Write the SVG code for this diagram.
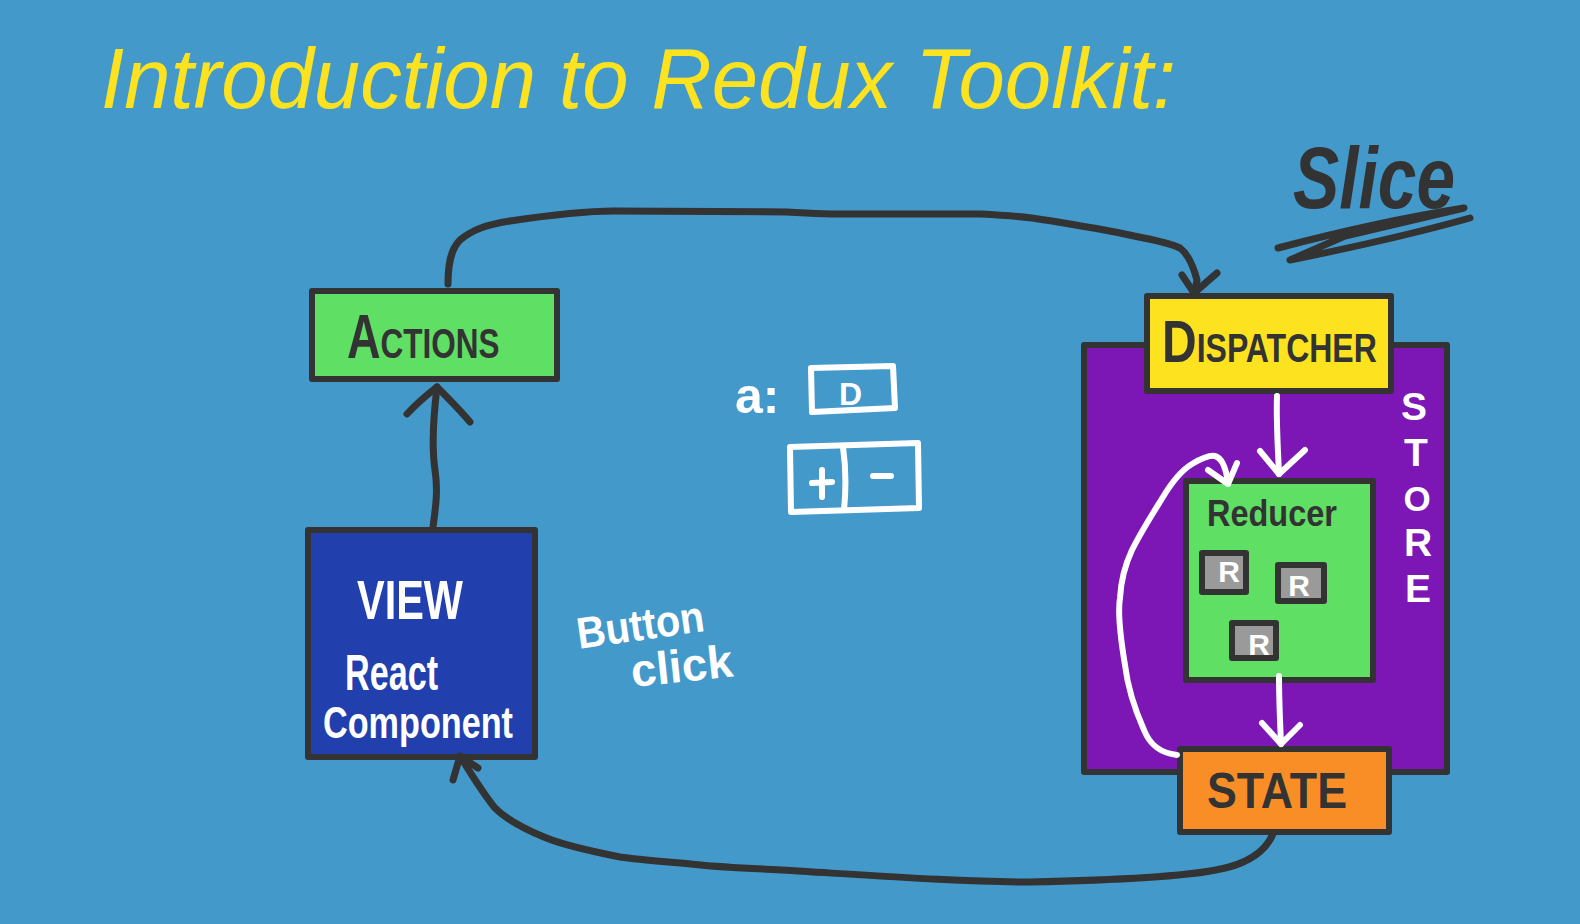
<svg xmlns="http://www.w3.org/2000/svg" width="1580" height="924" viewBox="0 0 1580 924">
<style>
.box{stroke:#333333;stroke-width:6;stroke-linejoin:round}
.dark{fill:none;stroke:#333333;stroke-width:7;stroke-linecap:round;stroke-linejoin:round}
.white{fill:none;stroke:#ffffff;stroke-width:6;stroke-linecap:round;stroke-linejoin:round}
.lbl{font-family:"Liberation Sans",Arial,sans-serif;font-weight:bold;fill:#333333}
.wlbl{font-family:"Liberation Sans",Arial,sans-serif;font-weight:bold;fill:#ffffff}
.hand{font-family:"Liberation Sans",Arial,sans-serif;font-style:italic}
</style>
<rect width="1580" height="924" fill="#4499cb"/>

<g id="title">
<text class="hand" x="101" y="108" font-size="86" fill="#fde31f" textLength="1075" lengthAdjust="spacingAndGlyphs">Introduction to Redux Toolkit:</text>
</g>

<g id="slice">
<text class="hand" x="1293" y="208" font-size="88" font-weight="bold" fill="#333333" textLength="162" lengthAdjust="spacingAndGlyphs">Slice</text>
<path class="dark" d="M1278,248 C1350,229 1420,215 1464,208 L1345,236 L1290,260 C1360,246 1420,232 1470,218" stroke-width="8"/>
</g>

<g id="store">
<rect class="box" x="1084" y="345" width="363" height="427" fill="#7c16b4"/>
<g class="wlbl" font-size="39" text-anchor="middle">
<text x="1414" y="420">S</text>
<text x="1416" y="466">T</text>
<text x="1417" y="511" font-size="35">O</text>
<text x="1418" y="556">R</text>
<text x="1418" y="602">E</text>
</g>
</g>

<g id="dispatcher">
<rect class="box" x="1147" y="296" width="244" height="95" fill="#fde31f"/>
<text class="lbl" transform="translate(1162,362) scale(0.8,1)" x="0" y="0"><tspan font-size="60">D</tspan><tspan font-size="40">ISPATCHER</tspan></text>
</g>

<g id="reducer">
<rect class="box" x="1186" y="481" width="187" height="199" fill="#5fdf64"/>
<text class="lbl" x="1207" y="526" font-size="36" textLength="130" lengthAdjust="spacingAndGlyphs">Reducer</text>
</g>

<g id="r1">
<rect class="box" x="1202" y="553" width="44" height="39" fill="#9a9a9a"/>
<text class="wlbl" x="1229" y="582" font-size="30" text-anchor="middle">R</text>
</g>
<g id="r2">
<rect class="box" x="1278" y="565" width="46" height="36" fill="#9a9a9a"/>
<text class="wlbl" x="1299" y="596" font-size="30" text-anchor="middle">R</text>
</g>
<g id="r3">
<rect class="box" x="1232" y="623" width="44" height="35" fill="#9a9a9a"/>
<text class="wlbl" x="1259" y="655" font-size="30" text-anchor="middle">R</text>
</g>

<g id="state">
<rect class="box" x="1180" y="749" width="209" height="83" fill="#f98e27"/>
<text class="lbl" x="1207" y="808" font-size="50" textLength="140" lengthAdjust="spacingAndGlyphs">STATE</text>
</g>

<g id="actions">
<rect class="box" x="312" y="291" width="245" height="88" fill="#5fdf64"/>
<text class="lbl" transform="translate(347,358) scale(0.75,1)" x="0" y="0"><tspan font-size="62">A</tspan><tspan font-size="42">CTIONS</tspan></text>
</g>

<g id="view">
<rect class="box" x="308" y="530" width="227" height="227" fill="#2140ae"/>
<text class="wlbl" x="357" y="619" font-size="56" textLength="106" lengthAdjust="spacingAndGlyphs">VIEW</text>
<text class="wlbl" x="345" y="690" font-size="50" textLength="93" lengthAdjust="spacingAndGlyphs">React</text>
<text class="wlbl" x="323" y="738" font-size="44" textLength="190" lengthAdjust="spacingAndGlyphs">Component</text>
</g>

<g id="button-click">
<text class="wlbl" x="575" y="640" font-size="44" textLength="128" lengthAdjust="spacingAndGlyphs" transform="rotate(-8 640 615)">Button</text>
<text class="wlbl" x="630" y="682" font-size="46" textLength="102" lengthAdjust="spacingAndGlyphs" transform="rotate(-6 680 660)">click</text>
</g>

<g id="counter-ui">
<text class="wlbl" x="735" y="413" font-size="50">a:</text>
<path class="white" d="M811,368 L893,366 L895,408 L812,412 Z"/>
<text class="wlbl" x="839" y="405" font-size="32">D</text>
<path class="white" d="M790,447 L918,443 L919,508 L791,512 Z M843,447 C846,468 846,490 844,510"/>
<path class="white" d="M822,470 L822,497 M812,483 L832,482 M873,476 L891,476"/>
</g>

<g id="connectors">
<path class="dark" d="M448,284 C448,266 450,250 460,240 C472,230 485,225 510,221 C550,215 585,211 614,211 L787,212 C810,213 820,214 838,214 L981,214 C1000,215 1015,216 1032,218 C1060,222 1080,226 1099,229 C1115,232 1125,234 1134,236 C1155,240 1170,243 1180,248 C1188,254 1193,265 1197,280 L1195,291"/>
<path class="dark" d="M1182,275 L1194,293 L1217,273"/>
<path class="dark" d="M1273,834 C1266,850 1250,864 1216,870 C1180,877 1120,880 1030,882 C960,882 880,876 782,870 C740,868 710,866 701,865 C670,862 640,860 620,857 C585,850 560,844 544,837 C520,827 505,818 495,808 C482,792 470,772 460,756"/>
<path class="dark" d="M453,780 L460,756 L478,768"/>
<path class="dark" d="M433,527 C436,505 438,490 435,470 C432,450 433,420 437,387"/>
<path class="dark" d="M407,414 C418,402 428,394 437,387 C448,398 460,410 470,422"/>
<path class="white" d="M1277,396 C1276,420 1278,450 1279,474"/>
<path class="white" d="M1260,451 L1279,474 L1305,450"/>
<path class="white" d="M1279,676 C1279,700 1280,720 1281,744"/>
<path class="white" d="M1262,723 L1281,744 L1300,725"/>
<path class="white" d="M1177,755 C1160,753 1150,745 1144,730 C1136,712 1128,690 1125,665 C1120,635 1118,610 1120,598 C1121,580 1125,565 1132,550 C1142,530 1155,510 1163,497 C1172,482 1182,470 1192,464 C1202,458 1210,455 1215,456 C1222,458 1226,468 1228,483"/>
<path class="white" d="M1208,470 L1228,484 L1237,463"/>
</g>
</svg>
